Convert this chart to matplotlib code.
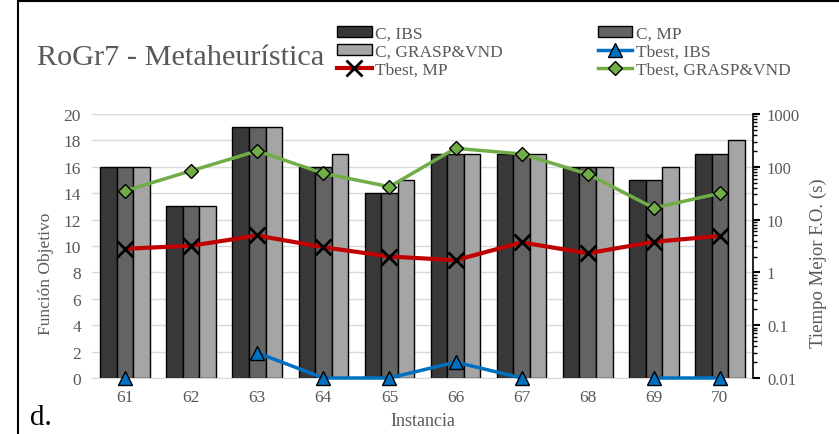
import numpy as np
import matplotlib.pyplot as plt
from matplotlib.ticker import FixedLocator, LogLocator, NullFormatter, FuncFormatter

plt.rcParams['font.family'] = ['Liberation Serif', 'DejaVu Serif']

# data
instancias = ['61', '62', '63', '64', '65', '66', '67', '68', '69', '70']
c_ibs = [16, 13, 19, 16, 14, 17, 17, 16, 15, 17]
c_mp = [16, 13, 19, 16, 14, 17, 17, 16, 15, 17]
c_grasp = [16, 13, 19, 17, 15, 17, 17, 16, 16, 18]
t_ibs = [0.01, np.nan, 0.03, 0.01, 0.01, 0.02, 0.01, np.nan, 0.01, 0.01]
t_mp = [2.8, 3.2, 5.0, 3.0, 2.0, 1.7, 3.7, 2.3, 3.8, 4.9]
t_grasp = [35, 84, 200, 75, 42, 224, 175, 73, 16.6, 31.6]

gray = '#595959'
fig = plt.figure(figsize=(8.39, 4.35), dpi=100)
ax = fig.add_axes([92/839, 1-379/435, (753-92)/839, (379-115)/435])

x = np.arange(len(instancias))
w = 0.25
b1 = ax.bar(x - w, c_ibs, w, color='#383838', edgecolor='black', linewidth=1, label='C, IBS', zorder=2)
b2 = ax.bar(x, c_mp, w, color='#636363', edgecolor='black', linewidth=1, label='C, MP', zorder=2)
b3 = ax.bar(x + w, c_grasp, w, color='#a5a5a5', edgecolor='black', linewidth=1, label='C, GRASP&VND', zorder=2)

ax.set_xlim(-0.5, len(instancias) - 0.5)
ax.set_ylim(0, 20)
ax.set_yticks(range(0, 21, 2))
ax.set_xticks(x)
ax.set_xticklabels(instancias)
ax.yaxis.grid(True, color='#d9d9d9', linewidth=1, zorder=0)
ax.set_axisbelow(True)
for s in ['left', 'right', 'top']:
    ax.spines[s].set_visible(False)
ax.spines['bottom'].set_color('#d9d9d9')
ax.tick_params(axis='both', length=0, colors=gray, labelsize=12.5, pad=8)

ax2 = ax.twinx()
ax2.set_yscale('log')
ax2.set_ylim(0.01, 1000)
l1, = ax2.plot(x, t_ibs, color='#0070c0', linewidth=2.5, marker='^', markersize=10,
               markerfacecolor='#0070c0', markeredgecolor='black', label='Tbest, IBS', clip_on=False)
l2, = ax2.plot(x, t_mp, color='#c00000', linewidth=3, marker='x', markersize=11,
               markeredgecolor='black', markeredgewidth=2, label='Tbest, MP', clip_on=False)
l3, = ax2.plot(x, t_grasp, color='#70ad47', linewidth=2.5, marker='D', markersize=7.5,
               markerfacecolor='#70ad47', markeredgecolor='black', label='Tbest, GRASP&VND', clip_on=False)
for s in ['left', 'top', 'bottom']:
    ax2.spines[s].set_visible(False)
ax2.spines['right'].set_color('black')
ax2.spines['right'].set_linewidth(1.2)
ax2.yaxis.set_major_locator(FixedLocator([0.01, 0.1, 1, 10, 100, 1000]))
ax2.yaxis.set_major_formatter(FuncFormatter(lambda v, p: '%g' % v))
ax2.yaxis.set_minor_locator(LogLocator(base=10, subs=np.arange(2, 10)))
ax2.yaxis.set_minor_formatter(NullFormatter())
ax2.tick_params(axis='y', which='major', length=5, width=1.5, colors='black', labelcolor=gray, labelsize=12, pad=5)
ax2.tick_params(axis='y', which='minor', length=3, width=1, colors='black')

# axis titles placed like in the original
fig.text(46/839, 1-274/435, 'Función Objetivo', color=gray, fontsize=12.5, rotation=90, va='center', ha='center')
fig.text(818/839, 1-263/435, 'Tiempo Mejor F.O. (s)', color=gray, fontsize=13.5, rotation=90, va='center', ha='center')
fig.text(423/839, 1-422/435, 'Instancia', color=gray, fontsize=13, va='center', ha='center')

fig.text(37/839, 1-58/435, 'RoGr7 - Metaheurística', color=gray, fontsize=21.8, va='center', ha='left')
fig.text(30/839, 1-418/435, 'd.', color='black', fontsize=21, va='center', ha='left')

handles = [b1, b3, l2, b2, l1, l3]
fig.legend(handles, [h.get_label() for h in handles], ncol=2, loc='upper left',
           bbox_to_anchor=(330/839, 1-20/435), frameon=False, fontsize=12.5,
           labelcolor=gray, handlelength=2.0, handleheight=0.6, handletextpad=0.2,
           columnspacing=5.45, labelspacing=0.1, borderaxespad=0)

# frame line on the left and top edges
fig.add_artist(plt.Line2D([18/839, 18/839], [0, 1-2/435], transform=fig.transFigure, color='black', linewidth=1.5))
fig.add_artist(plt.Line2D([18/839, 1], [1-2/435, 1-2/435], transform=fig.transFigure, color='black', linewidth=1.5))

fig.savefig('out.png', dpi=100)
